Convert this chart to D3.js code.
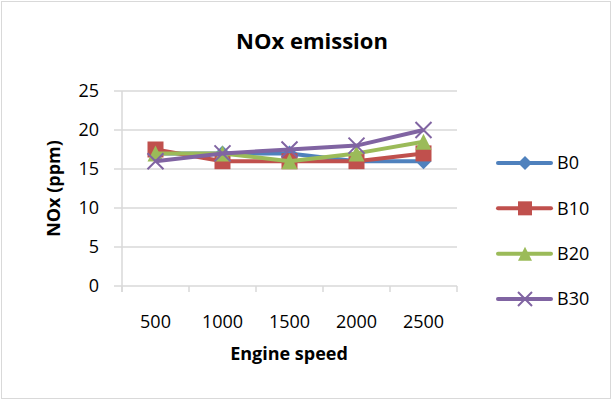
<!DOCTYPE html>
<html>
<head>
<meta charset="utf-8">
<script src="https://cdn.jsdelivr.net/npm/d3@7"></script>
<style>
  body { margin: 0; background: #fff; }
  text { font-family: "Open Sans", sans-serif; fill: #000; }
</style>
</head>
<body>
<svg id="chart" width="613" height="401"></svg>
<script>
// datos
const speeds = ["500", "1000", "1500", "2000", "2500"];
const seriesNames = ["B0", "B10", "B20", "B30"];
const b0 = [17, 17, 17, 16, 16];
const b10 = [17.5, 16, 16, 16, 17];
const b20 = [17, 17, 16, 17, 18.5];
const b30 = [16, 17, 17.5, 18, 20];
const yTicks = [0, 5, 10, 15, 20, 25];
const colors = ["#4f81bd", "#c0504d", "#9bbb59", "#8064a2"];
const symbols = ["diamond", "square", "triangle", "cross"];

const series = [b0, b10, b20, b30].map((v, i) => ({ name: seriesNames[i], values: v, color: colors[i], sym: symbols[i] }));

const svg = d3.select("#chart");
const W = 613, H = 401;

// borde exterior
svg.append("rect").attr("x", 1.5).attr("y", 1.5).attr("width", W - 4).attr("height", H - 4)
  .attr("fill", "#fff").attr("stroke", "#d9d9d9").attr("stroke-width", 1);

const plot = { left: 122, right: 457, top: 91, bottom: 286 };

const x = d3.scaleBand().domain(speeds).range([plot.left, plot.right]);
const y = d3.scaleLinear().domain([0, 25]).range([plot.bottom, plot.top]);

const g = svg.append("g");

// rejilla horizontal
g.selectAll("line.grid").data(yTicks).enter().append("line")
  .attr("x1", plot.left - 8).attr("x2", plot.right)
  .attr("y1", d => y(d)).attr("y2", d => y(d))
  .attr("stroke", "#d9d9d9").attr("stroke-width", 1.5);

// eje vertical
g.append("line").attr("x1", plot.left).attr("x2", plot.left)
  .attr("y1", plot.top).attr("y2", plot.bottom + 6)
  .attr("stroke", "#d9d9d9").attr("stroke-width", 1.5);

// marcas del eje x en los limites de categoria
const bounds = speeds.map(s => x(s) + x.bandwidth()).concat([plot.left]);
g.selectAll("line.xtick").data(bounds).enter().append("line")
  .attr("x1", d => d).attr("x2", d => d)
  .attr("y1", plot.bottom).attr("y2", plot.bottom + 6)
  .attr("stroke", "#d9d9d9").attr("stroke-width", 1.5);

// etiquetas de los ejes
g.selectAll("text.ylab").data(yTicks).enter().append("text")
  .attr("x", plot.left - 23).attr("y", d => y(d)).attr("dy", "0.36em")
  .attr("text-anchor", "end").attr("font-size", 18).text(d => d);

g.selectAll("text.xlab").data(speeds).enter().append("text")
  .attr("x", d => x(d) + x.bandwidth() / 2).attr("y", plot.bottom + 42)
  .attr("text-anchor", "middle").attr("font-size", 18).text(d => d);

svg.append("text").attr("x", 312).attr("y", 49).attr("text-anchor", "middle")
  .attr("font-size", 22).attr("font-weight", "bold").text("NOx emission");

svg.append("text").attr("x", 289).attr("y", 360).attr("text-anchor", "middle")
  .attr("font-size", 18).attr("font-weight", "bold").text("Engine speed");

svg.append("text").attr("transform", `translate(60,${(plot.top + plot.bottom) / 2}) rotate(-90)`)
  .attr("text-anchor", "middle").attr("font-size", 18).attr("font-weight", "bold").text("NOx (ppm)");

// marcadores
function drawMarker(sel, sym, color, size) {
  const s = size / 2;
  if (sym === "diamond") {
    sel.append("path").attr("d", `M0,${-s}L${s},0L0,${s}L${-s},0Z`).attr("fill", color);
  } else if (sym === "square") {
    sel.append("rect").attr("x", -s).attr("y", -s).attr("width", size).attr("height", size).attr("fill", color);
  } else if (sym === "triangle") {
    sel.append("path").attr("d", `M0,${-s}L${s},${s}L${-s},${s}Z`).attr("fill", color);
  } else {
    sel.append("path").attr("d", `M${-s},${-s}L${s},${s}M${s},${-s}L${-s},${s}`)
      .attr("stroke", color).attr("stroke-width", 2).attr("fill", "none");
  }
}

const line = d3.line().x((d, i) => x(speeds[i]) + x.bandwidth() / 2).y(d => y(d));

series.forEach(s => {
  g.append("path").datum(s.values).attr("d", line)
    .attr("fill", "none").attr("stroke", s.color).attr("stroke-width", 4)
    .attr("stroke-linejoin", "round");
  s.values.forEach((v, i) => {
    const m = g.append("g").attr("transform", `translate(${x(speeds[i]) + x.bandwidth() / 2},${y(v)})`);
    drawMarker(m, s.sym, s.color, 16);
  });
});

// leyenda
const legY = d3.scalePoint().domain(seriesNames).range([163, 299]);
series.forEach(s => {
  const lg = svg.append("g").attr("transform", `translate(0,${legY(s.name)})`);
  lg.append("line").attr("x1", 498).attr("x2", 551).attr("y1", 0).attr("y2", 0)
    .attr("stroke", s.color).attr("stroke-width", 4).attr("stroke-linecap", "round");
  const m = lg.append("g").attr("transform", "translate(525,0)");
  drawMarker(m, s.sym, s.color, 14);
  lg.append("text").attr("x", 557).attr("y", 0).attr("dy", "0.36em")
    .attr("font-size", 18).text(s.name);
});
</script>
</body>
</html>
